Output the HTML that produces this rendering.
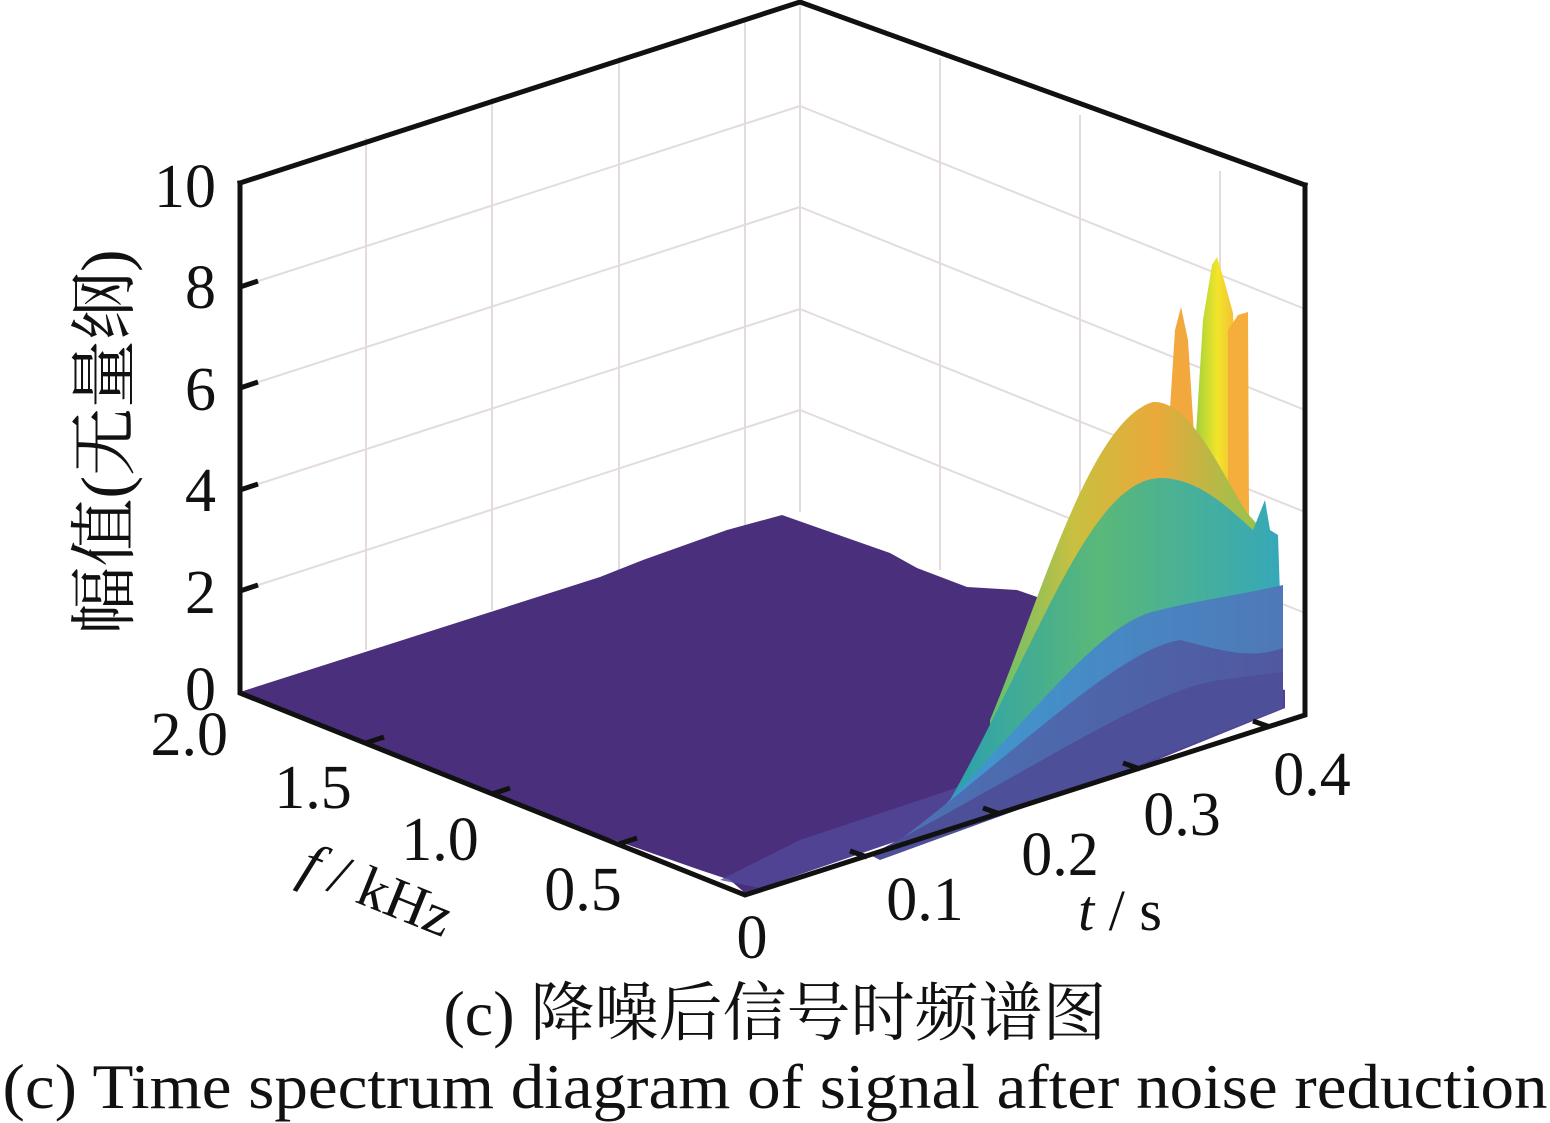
<!DOCTYPE html>
<html><head><meta charset="utf-8"><style>
html,body{margin:0;padding:0;background:#fff;}
svg{display:block;}
.t{font-family:"Liberation Serif","Noto Serif CJK SC",serif;fill:#111;}
</style></head><body>
<svg width="1550" height="1123" viewBox="0 0 1550 1123" xmlns="http://www.w3.org/2000/svg">
<defs>
<linearGradient id="gy" x1="0" y1="0" x2="1" y2="0">
<stop offset="0" stop-color="#9fd13a"/><stop offset="0.5" stop-color="#f2e52a"/><stop offset="1" stop-color="#f7b33a"/></linearGradient>
<linearGradient id="go" x1="0" y1="0" x2="1" y2="0">
<stop offset="0" stop-color="#5fc070"/><stop offset="0.3" stop-color="#c8c040"/><stop offset="0.6" stop-color="#eaa93a"/><stop offset="1" stop-color="#8cc650"/></linearGradient>
<linearGradient id="gg" x1="0" y1="0" x2="1" y2="0">
<stop offset="0" stop-color="#2aa0b0"/><stop offset="0.45" stop-color="#5ab878"/><stop offset="1" stop-color="#36a8b8"/></linearGradient>
<linearGradient id="gb" x1="0" y1="0" x2="1" y2="0">
<stop offset="0" stop-color="#3f9ad0"/><stop offset="1" stop-color="#4f78b8"/></linearGradient>
<linearGradient id="gb2" x1="0" y1="0" x2="1" y2="0">
<stop offset="0" stop-color="#4c72b5"/><stop offset="1" stop-color="#5058a0"/></linearGradient>
</defs>
<g stroke="#e4dcdc" stroke-width="2" fill="none">
<line x1="240" y1="591" x2="800" y2="410"/>
<line x1="240" y1="490" x2="800" y2="309"/>
<line x1="240" y1="388" x2="800" y2="207"/>
<line x1="240" y1="287" x2="800" y2="106"/>
<line x1="366" y1="138" x2="366" y2="650"/>
<line x1="492" y1="98" x2="492" y2="610"/>
<line x1="619" y1="57" x2="619" y2="570"/>
<line x1="745" y1="19" x2="745" y2="530"/>
<line x1="800" y1="410" x2="1305" y2="613"/>
<line x1="800" y1="309" x2="1305" y2="512"/>
<line x1="800" y1="207" x2="1305" y2="410"/>
<line x1="800" y1="106" x2="1305" y2="309"/>
<line x1="800" y1="2" x2="800" y2="512"/>
<line x1="940" y1="58" x2="940" y2="570"/>
<line x1="1080" y1="115" x2="1080" y2="627"/>
<line x1="1220" y1="171" x2="1220" y2="683"/>
</g>
<polygon fill="#4a2f7c" points="240,692 600,577 643,560 727,530 782,515 833,533 890,553 917,568 967,587 1017,590 1040,598 1060,640 1285,690 1285,708 1100,783 900,840 760,888 745,893 730,880 700,870 600,835 240,694"/>
<polygon fill="#52489a" opacity="0.8" points="720,880 800,840 950,790 1020,760 1285,690 1285,708 1100,783 900,840 760,888"/>
<polygon fill="#f2a83c" points="1168,440 1175,330 1181,307 1188,340 1195,450"/>
<polygon fill="url(#gy)" points="1195,450 1203,320 1212,265 1217,257 1224,280 1233,313 1240,500 1200,500"/>
<polygon fill="#f5ae3c" points="1228,330 1238,315 1248,312 1249,515 1228,515"/>
<path fill="url(#go)" d="M990,720 C1040,600 1090,420 1153,402 C1190,400 1220,470 1247,513 L1267,535 L1267,700 L990,760 Z"/>
<path fill="url(#gg)" d="M950,800 C1040,640 1090,480 1160,478 C1200,478 1230,510 1253,530 L1265,500 L1270,530 L1278,535 L1280,595 L950,830 Z"/>
<path fill="url(#gb)" d="M930,820 C1030,720 1100,620 1160,610 C1200,600 1240,595 1283,585 L1283,700 L950,830 Z"/>
<path fill="url(#gb2)" d="M900,840 C1030,740 1120,650 1180,640 C1220,650 1250,660 1283,648 L1283,700 L930,840 Z"/>
<path fill="#4d4f98" d="M870,855 C1050,760 1150,690 1220,680 L1283,672 L1283,708 L1100,780 L880,860 Z"/>
<g stroke="#111" stroke-width="5" fill="none" stroke-linecap="square">
<polyline points="240,183 240,693 745,895 1305,715 1305,185"/>
<line x1="240" y1="183" x2="800" y2="2"/>
<line x1="800" y1="2" x2="1305" y2="185"/>
</g>
<g stroke="#111" stroke-width="5">
<line x1="240" y1="591" x2="258" y2="585"/>
<line x1="240" y1="490" x2="258" y2="484"/>
<line x1="240" y1="388" x2="258" y2="382"/>
<line x1="240" y1="287" x2="258" y2="281"/>
<line x1="366" y1="743" x2="384" y2="737"/>
<line x1="492" y1="794" x2="510" y2="788"/>
<line x1="619" y1="844" x2="637" y2="838"/>
<line x1="867" y1="857" x2="850" y2="851"/>
<line x1="1000" y1="814" x2="983" y2="808"/>
<line x1="1140" y1="769" x2="1123" y2="763"/>
<line x1="1270" y1="727" x2="1253" y2="721"/>
</g>
<g class="t" font-size="62">
<text x="216" y="207" text-anchor="end">10</text>
<text x="216" y="308" text-anchor="end">8</text>
<text x="216" y="410" text-anchor="end">6</text>
<text x="216" y="511" text-anchor="end">4</text>
<text x="216" y="613" text-anchor="end">2</text>
<text x="216" y="710" text-anchor="end">0</text>
<text x="228" y="755" text-anchor="end">2.0</text>
<text x="313" y="808" text-anchor="middle">1.5</text>
<text x="440" y="860" text-anchor="middle">1.0</text>
<text x="583" y="910" text-anchor="middle">0.5</text>
<text x="752" y="958" text-anchor="middle">0</text>
<text x="925" y="920" text-anchor="middle">0.1</text>
<text x="1060" y="875" text-anchor="middle">0.2</text>
<text x="1182" y="835" text-anchor="middle">0.3</text>
<text x="1312" y="795" text-anchor="middle">0.4</text>
<text x="1120" y="930" text-anchor="middle" font-size="58"><tspan font-style="italic">t</tspan> / s</text>
<text transform="translate(370,908) rotate(22)" text-anchor="middle" font-size="58"><tspan font-style="italic">f</tspan> / kHz</text>
<text transform="translate(128,442) rotate(-90)" text-anchor="middle" font-size="68">幅值(无量纲)</text>
<text x="775" y="1035" text-anchor="middle" font-size="64">(c)  降噪后信号时频谱图</text>
<text x="775" y="1108" text-anchor="middle" font-size="64" textLength="1545" lengthAdjust="spacingAndGlyphs">(c)  Time spectrum diagram of signal after noise reduction</text>
</g>
</svg>
</body></html>
